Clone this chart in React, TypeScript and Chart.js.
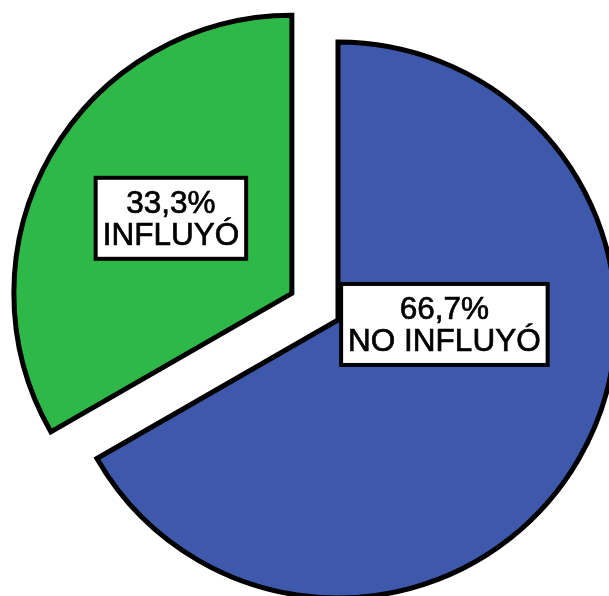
import React, { useEffect, useRef } from "react";
import { Chart, registerables } from "chart.js";

Chart.register(...registerables);

// ---- data ----
const categories = ["NO INFLUYÓ", "INFLUYÓ"];
const percentages = [66.7, 33.3];
const percentLabels = ["66,7%", "33,3%"];
const sliceColors = ["#3E58AC", "#2EB848"];
const explode = [0, 53.3]; // px each slice is pulled out along its bisector

// label anchors: polar position relative to each slice's (displaced) centre
const labelAngles = [2.4, 211.8]; // degrees
const labelDists = [0.383, 0.512]; // fraction of radius

const RADIUS = 278;
const FONT = '31.5px "Liberation Sans", Arial, sans-serif';

const explodedPie = {
  id: "explodedPie",
  beforeDatasetDraw(chart: any, args: any) {
    const ctx = chart.ctx as CanvasRenderingContext2D;
    const meta = chart.getDatasetMeta(args.index);
    const centres: { x: number; y: number; r: number }[] = [];
    meta.data.forEach((arc: any, i: number) => {
      const p = arc.getProps(["x", "y", "startAngle", "endAngle", "outerRadius"], true);
      const half = (p.startAngle + p.endAngle) / 2;
      const dx = Math.cos(half) * explode[i];
      const dy = Math.sin(half) * explode[i];
      ctx.save();
      ctx.translate(dx, dy);
      arc.draw(ctx, chart.chartArea);
      ctx.restore();
      centres.push({ x: p.x + dx, y: p.y + dy, r: p.outerRadius });
    });

    centres.forEach((c, i) => {
      const a = (labelAngles[i] * Math.PI) / 180;
      const lx = c.x + Math.cos(a) * labelDists[i] * c.r;
      const ly = c.y + Math.sin(a) * labelDists[i] * c.r;
      ctx.save();
      ctx.font = FONT;
      const lines = [percentLabels[i], categories[i]];
      const tw = Math.max(...lines.map((l) => ctx.measureText(l).width));
      const w = tw + 14;
      const h = 81;
      ctx.fillStyle = "#ffffff";
      ctx.fillRect(lx - w / 2, ly - h / 2, w, h);
      ctx.lineWidth = 4;
      ctx.strokeStyle = "#000000";
      ctx.lineJoin = "miter";
      ctx.strokeRect(lx - w / 2, ly - h / 2, w, h);
      ctx.fillStyle = "#000000";
      ctx.textAlign = "center";
      ctx.textBaseline = "alphabetic";
      ctx.lineWidth = 0.7;
      ctx.fillText(lines[0], lx, ly - 5);
      ctx.strokeText(lines[0], lx, ly - 5);
      ctx.fillText(lines[1], lx, ly + 27);
      ctx.strokeText(lines[1], lx, ly + 27);
      ctx.restore();
    });
    return false;
  },
};

export default function App() {
  const ref = useRef<HTMLCanvasElement | null>(null);

  useEffect(() => {
    if (!ref.current) return;
    const chart = new Chart(ref.current, {
      type: "pie",
      data: {
        labels: categories,
        datasets: [
          {
            data: percentages,
            backgroundColor: sliceColors,
            borderColor: "#000000",
            borderWidth: 5,
            borderJoinStyle: "miter",
            offset: 0,
            hoverOffset: 0,
            clip: false,
          } as any,
        ],
      },
      options: {
        responsive: false,
        animation: false,
        radius: RADIUS,
        layout: { padding: { left: 67, top: 44, right: 0, bottom: 0 } },
        plugins: {
          legend: { display: false },
          tooltip: { enabled: false },
        },
        events: [],
      } as any,
      plugins: [explodedPie],
    });
    return () => chart.destroy();
  }, []);

  return (
    <div style={{ position: "fixed", left: 0, top: 0, width: 609, height: 596, background: "#fff" }}>
      <canvas ref={ref} width={609} height={596} style={{ display: "block" }} />
    </div>
  );
}
